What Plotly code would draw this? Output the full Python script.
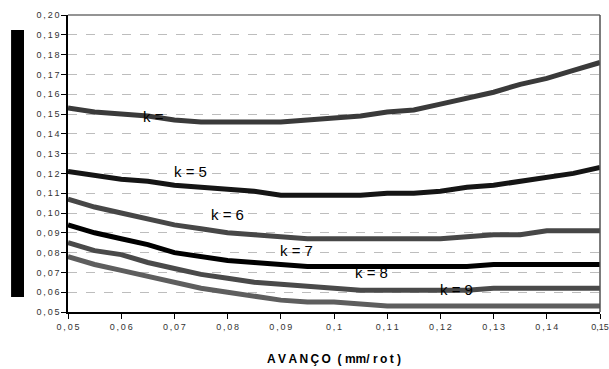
import plotly.graph_objects as go

avanco = [0.050, 0.055, 0.060, 0.065, 0.070, 0.075, 0.080, 0.085, 0.090, 0.095, 0.100,
          0.105, 0.110, 0.115, 0.120, 0.125, 0.130, 0.135, 0.140, 0.145, 0.150]

k4 = [0.153, 0.151, 0.150, 0.149, 0.147, 0.146, 0.146, 0.146, 0.146, 0.147, 0.148,
      0.149, 0.151, 0.152, 0.155, 0.158, 0.161, 0.165, 0.168, 0.172, 0.176]
k5 = [0.121, 0.119, 0.117, 0.116, 0.114, 0.113, 0.112, 0.111, 0.109, 0.109, 0.109,
      0.109, 0.110, 0.110, 0.111, 0.113, 0.114, 0.116, 0.118, 0.120, 0.123]
k6 = [0.107, 0.103, 0.100, 0.097, 0.094, 0.092, 0.090, 0.089, 0.088, 0.087, 0.087,
      0.087, 0.087, 0.087, 0.087, 0.088, 0.089, 0.089, 0.091, 0.091, 0.091]
k7 = [0.094, 0.090, 0.087, 0.084, 0.080, 0.078, 0.076, 0.075, 0.074, 0.073, 0.073,
      0.073, 0.073, 0.073, 0.073, 0.073, 0.074, 0.074, 0.074, 0.074, 0.074]
k8 = [0.085, 0.081, 0.079, 0.075, 0.072, 0.069, 0.067, 0.065, 0.064, 0.063, 0.062,
      0.061, 0.061, 0.061, 0.061, 0.061, 0.062, 0.062, 0.062, 0.062, 0.062]
k9 = [0.078, 0.074, 0.071, 0.068, 0.065, 0.062, 0.060, 0.058, 0.056, 0.055, 0.055,
      0.054, 0.053, 0.053, 0.053, 0.053, 0.053, 0.053, 0.053, 0.053, 0.053]

series = [k4, k5, k6, k7, k8, k9]
colors = ["#3a3a3a", "#151515", "#474747", "#000000", "#4a4a4a", "#5e5e5e"]

label_texts = ["k =", "k = 5", "k = 6", "k = 7", "k = 8", "k = 9"]
label_x = [0.0660, 0.0730, 0.0800, 0.0930, 0.1070, 0.1230]
label_y = [0.1485, 0.1210, 0.0993, 0.0810, 0.0698, 0.0613]

T = "\u2009"
y_ticks = [0.05, 0.06, 0.07, 0.08, 0.09, 0.10, 0.11, 0.12, 0.13, 0.14, 0.15, 0.16, 0.17, 0.18, 0.19, 0.20]
y_ticktext = ["0,05", "0,06", "0,07", "0,08", "0,09", "0,10", "0,11", "0,12", "0,13", "0,14",
              "0,15", "0,16", "0,17", "0,18", "0,19", "0,20"]
x_ticks = [0.05, 0.06, 0.07, 0.08, 0.09, 0.10, 0.11, 0.12, 0.13, 0.14, 0.15]
x_ticktext = ["0,05", "0,06", "0,07", "0,08", "0,09", "0,1", "0,11", "0,12", "0,13", "0,14", "0,15"]


def spaced(s):
    return T.join(list(s))


x_labels = [spaced(s) for s in x_ticktext[:-1]] + [x_ticktext[-1]]

fig = go.Figure()
for vals, col in zip(series, colors):
    fig.add_trace(go.Scatter(x=avanco, y=vals, mode="lines",
                             line=dict(color=col, width=5), showlegend=False,
                             hoverinfo="skip"))

for t, lx, ly in zip(label_texts, label_x, label_y):
    fig.add_annotation(x=lx, y=ly, text=t, showarrow=False,
                       font=dict(family="Liberation Sans, Arial", size=15, color="#000000"))

tick_font = dict(family="Liberation Sans, Arial", size=9, color="#333333")

fig.update_layout(
    width=609, height=369,
    margin=dict(l=68, r=9, t=15, b=57),
    paper_bgcolor="white", plot_bgcolor="white",
    xaxis=dict(range=[0.05, 0.15], tickvals=x_ticks, ticktext=x_labels,
               showgrid=False, zeroline=False, showline=True, linecolor="#000000",
               linewidth=1.5, ticks="outside", ticklen=5, tickcolor="#000000",
               tickfont=tick_font, automargin=False, ticklabeloverflow="allow",
               title=dict(text="<b>" + spaced("AVANÇO") + "  ( mm/ r" + T + "o" + T + "t )</b>",
                          font=dict(family="Liberation Sans, Arial", size=12, color="#000000"),
                          standoff=24)),
    yaxis=dict(range=[0.05, 0.20], tickvals=y_ticks,
               ticktext=[spaced(s) for s in y_ticktext],
               showgrid=True, gridcolor="#bdbdbd", griddash="dash", gridwidth=1,
               zeroline=False, showline=True, linecolor="#000000", linewidth=1.5,
               ticks="outside", ticklen=5, tickcolor="#000000", tickfont=tick_font,
               automargin=False, ticklabeloverflow="allow"),
)

# top and right frame of plot area
fig.add_shape(type="line", xref="paper", yref="paper", x0=0, x1=1, y0=1, y1=1,
              line=dict(color="#707070", width=1.5))
fig.add_shape(type="line", xref="paper", yref="paper", x0=1, x1=1, y0=0, y1=1,
              line=dict(color="#505050", width=1.5))

# black block on the left (y-axis title area)
fig.add_shape(type="rect", xref="paper", yref="paper",
              x0=-0.107, x1=-0.0827, y0=0.0505, y1=0.9495,
              fillcolor="#000000", line=dict(width=0))

fig.write_html("out.html")
